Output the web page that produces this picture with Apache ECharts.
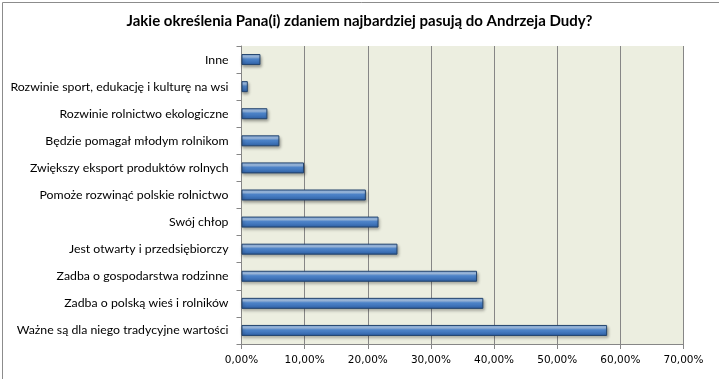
<!DOCTYPE html>
<html><head><meta charset="utf-8">
<script src="https://cdn.jsdelivr.net/npm/echarts@6/dist/echarts.min.js"></script>
<style>html,body{margin:0;padding:0;background:#fff}#c{width:719px;height:379px}</style>
</head><body><div id="c"></div>
<script>
const title = 'Jakie określenia Pana(i) zdaniem najbardziej pasują do Andrzeja Dudy?';
const categories = [
  'Inne',
  'Rozwinie sport, edukację i kulturę na wsi',
  'Rozwinie rolnictwo ekologiczne',
  'Będzie pomagał młodym rolnikom',
  'Zwiększy eksport produktów rolnych',
  'Pomoże rozwinąć polskie rolnictwo',
  'Swój chłop',
  'Jest otwarty i przedsiębiorczy',
  'Zadba o gospodarstwa rodzinne',
  'Zadba o polską wieś i rolników',
  'Ważne są dla niego tradycyjne wartości'
];
const values = [3.0, 1.0, 4.1, 6.0, 9.9, 19.7, 21.7, 24.7, 37.3, 38.3, 57.9];
const xTicks = [0, 10, 20, 30, 40, 50, 60, 70];

const chart = echarts.init(document.getElementById('c'), null, {renderer: 'canvas'});
chart.setOption({
  animation: false,
  backgroundColor: '#ffffff',
  title: {
    text: title, left: 'center', top: 9,
    textStyle: {fontFamily: 'Lato', fontWeight: 'bold', fontSize: 15, color: '#000'}
  },
  graphic: [{
    type: 'rect', left: 0, top: 0, z: 100,
    shape: {x: 0.5, y: 0.5, width: 718, height: 378},
    style: {fill: 'none', stroke: '#8c8c8c', lineWidth: 1}
  }],
  grid: {left: 241.5, right: 35.5, top: 46, bottom: 35, show: true, backgroundColor: '#ECEEE0', borderWidth: 0},
  xAxis: {
    type: 'value', min: xTicks[0], max: xTicks[xTicks.length - 1], interval: 10,
    axisLine: {show: true, lineStyle: {color: '#868686'}},
    axisTick: {show: true, length: 5, lineStyle: {color: '#868686'}},
    splitLine: {show: true, lineStyle: {color: '#868686', width: 1}},
    axisLabel: {
      fontFamily: 'DejaVu Sans', fontSize: 10.5, color: '#000', margin: 11,
      formatter: v => v.toFixed(2).replace('.', ',') + '%'
    }
  },
  yAxis: {
    type: 'category', data: categories, inverse: true,
    axisLine: {show: true, lineStyle: {color: '#868686'}},
    axisTick: {show: true, length: 5, alignWithLabel: false, lineStyle: {color: '#868686'}},
    axisLabel: {fontFamily: 'Lato', fontSize: 12.3, color: '#000', margin: 13}
  },
  series: [{
    type: 'bar', data: values, barWidth: 11,
    itemStyle: {
      color: {type: 'linear', x: 0, y: 0, x2: 0, y2: 1, colorStops: [
        {offset: 0, color: '#7FA8DC'},
        {offset: 0.25, color: '#A9C8EE'},
        {offset: 0.45, color: '#4F86CC'},
        {offset: 0.85, color: '#3669AE'},
        {offset: 1, color: '#244C86'}
      ]},
      borderColor: '#24456F', borderWidth: 1,
      shadowColor: 'rgba(0,0,0,0.35)', shadowBlur: 3, shadowOffsetX: 1, shadowOffsetY: 2
    }
  }]
});
</script></body></html>
